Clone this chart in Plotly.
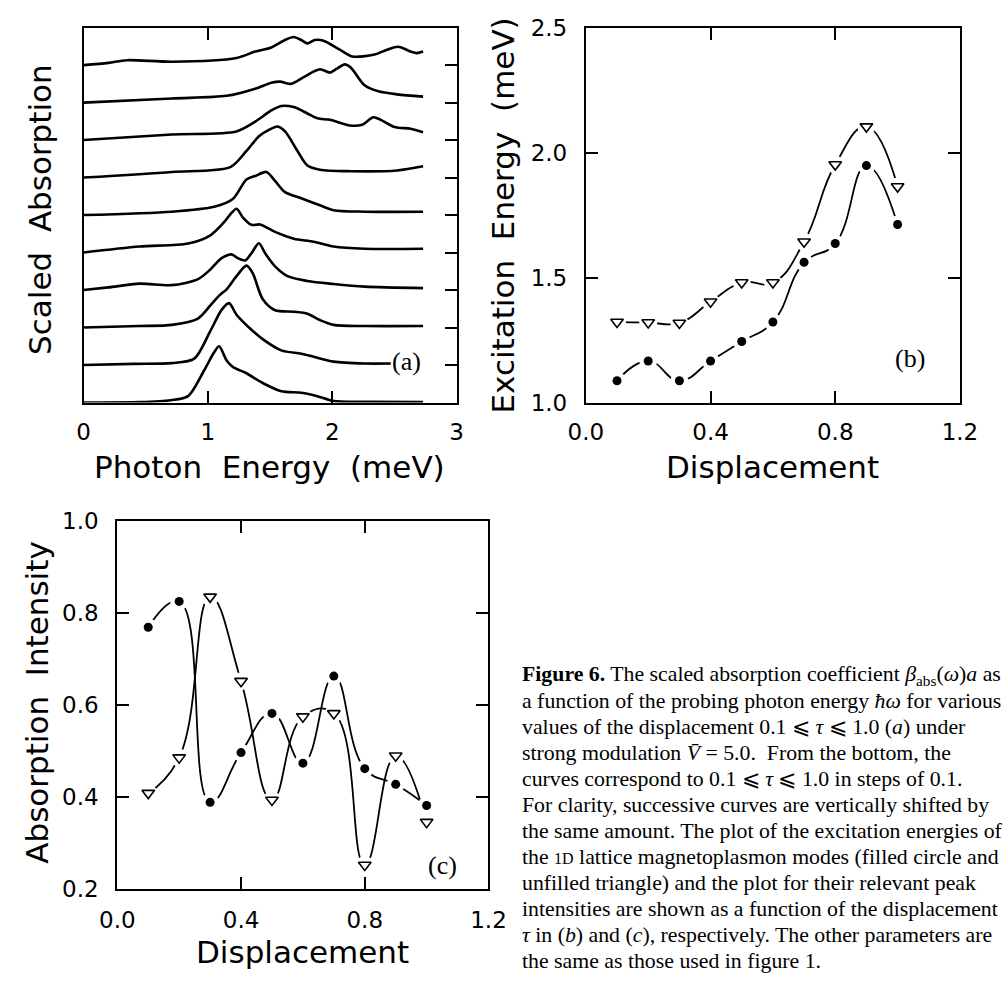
import plotly.graph_objects as go

W, H = 1003, 991

# ---------------- Panel (a): scaled absorption spectra (shift = 1 per curve) ----------------
SHIFT = 1.0
e01 = [0.0, 0.45, 0.70, 0.84, 0.97, 1.05, 1.09, 1.15, 1.20, 1.31, 1.44, 1.59, 1.75, 1.88, 2.01, 2.30, 2.73]
a01 = [0.0, 0.01, 0.06, 0.17, 0.86, 1.34, 1.50, 1.12, 0.95, 0.78, 0.52, 0.30, 0.26, 0.17, 0.04, 0.02, 0.01]
e02 = [0.0, 0.40, 0.71, 0.89, 1.02, 1.11, 1.17, 1.23, 1.33, 1.44, 1.59, 1.75, 1.85, 2.01, 2.26, 2.47]
a02 = [0.0, 0.03, 0.05, 0.17, 0.91, 1.47, 1.65, 1.34, 1.00, 0.69, 0.39, 0.30, 0.22, 0.09, 0.04, 0.04]
e03 = [0.0, 0.45, 0.71, 0.92, 1.02, 1.09, 1.15, 1.23, 1.31, 1.36, 1.44, 1.54, 1.69, 1.80, 1.90, 2.01, 2.26, 2.73]
a03 = [0.0, 0.04, 0.07, 0.24, 0.59, 0.85, 1.02, 1.37, 1.65, 1.45, 0.76, 0.46, 0.42, 0.37, 0.20, 0.07, 0.04, 0.04]
e04 = [0.0, 0.20, 0.45, 0.71, 0.92, 1.02, 1.11, 1.19, 1.24, 1.30, 1.35, 1.41, 1.46, 1.54, 1.64, 1.80, 2.01, 2.26, 2.73]
a04 = [0.0, 0.07, 0.17, 0.13, 0.29, 0.55, 0.85, 0.95, 0.85, 0.79, 0.98, 1.25, 0.98, 0.63, 0.37, 0.24, 0.16, 0.09, 0.05]
e05 = [0.0, 0.45, 0.84, 1.02, 1.13, 1.18, 1.23, 1.28, 1.35, 1.42, 1.54, 1.69, 1.85, 2.01, 2.26, 2.73]
a05 = [0.0, 0.16, 0.24, 0.46, 0.81, 1.02, 1.17, 0.94, 0.74, 0.75, 0.55, 0.37, 0.29, 0.16, 0.10, 0.10]
e06 = [0.0, 0.71, 1.05, 1.20, 1.31, 1.38, 1.47, 1.54, 1.62, 1.75, 1.90, 2.01, 2.26, 2.73]
a06 = [0.0, 0.09, 0.22, 0.43, 0.95, 1.04, 1.15, 0.91, 0.61, 0.45, 0.26, 0.13, 0.09, 0.09]
e07 = [0.0, 0.71, 1.18, 1.31, 1.41, 1.49, 1.56, 1.62, 1.72, 1.80, 1.90, 2.14, 2.52, 2.73]
a07 = [0.0, 0.15, 0.28, 0.71, 1.10, 1.27, 1.36, 1.23, 0.71, 0.32, 0.21, 0.17, 0.19, 0.30]
e08 = [0.0, 0.71, 1.23, 1.38, 1.51, 1.59, 1.69, 1.80, 1.88, 1.98, 2.14, 2.24, 2.33, 2.39, 2.50, 2.63, 2.73]
a08 = [0.0, 0.15, 0.23, 0.49, 0.79, 0.91, 0.88, 0.71, 0.58, 0.54, 0.39, 0.41, 0.61, 0.54, 0.35, 0.30, 0.21]
e09 = [0.0, 0.71, 1.15, 1.38, 1.51, 1.58, 1.67, 1.77, 1.90, 1.98, 2.03, 2.10, 2.15, 2.26, 2.37, 2.52, 2.73]
a09 = [0.0, 0.11, 0.18, 0.37, 0.53, 0.56, 0.50, 0.68, 0.89, 0.80, 0.89, 1.02, 0.93, 0.46, 0.30, 0.22, 0.16]
e10 = [0.0, 0.20, 0.35, 0.71, 1.23, 1.38, 1.51, 1.62, 1.69, 1.75, 1.80, 1.86, 1.93, 2.06, 2.16, 2.34, 2.44, 2.53, 2.63, 2.68, 2.73]
a10 = [0.0, 0.06, 0.13, 0.09, 0.19, 0.36, 0.47, 0.67, 0.75, 0.67, 0.58, 0.67, 0.65, 0.41, 0.23, 0.28, 0.41, 0.49, 0.36, 0.32, 0.36]

energy_ticks = [0, 1, 2, 3]
shift_ticks = [1, 2, 3, 4, 5, 6, 7, 8, 9]

# ---------------- Panels (b) and (c) ----------------
displacement = [0.1, 0.2, 0.3, 0.4, 0.5, 0.6, 0.7, 0.8, 0.9, 1.0]
exc_circle = [1.087, 1.166, 1.087, 1.166, 1.244, 1.322, 1.561, 1.636, 1.948, 1.712]
exc_triangle = [1.322, 1.320, 1.318, 1.403, 1.480, 1.480, 1.643, 1.952, 2.104, 1.864]
int_circle = [0.769, 0.825, 0.389, 0.497, 0.582, 0.474, 0.663, 0.462, 0.428, 0.382]
int_triangle = [0.409, 0.486, 0.835, 0.652, 0.394, 0.575, 0.582, 0.253, 0.490, 0.346]

disp_ticks = [0.0, 0.4, 0.8, 1.2]
disp_ticktext = ["0.0", "0.4", "0.8", "1.2"]
exc_ticks = [1.0, 1.5, 2.0, 2.5]
exc_ticktext = ["1.0", "1.5", "2.0", "2.5"]
int_ticks = [0.2, 0.4, 0.6, 0.8, 1.0]
int_ticktext = ["0.2", "0.4", "0.6", "0.8", "1.0"]

caption_lines = [
    "<b>Figure 6.</b> The scaled absorption coefficient <i>β</i><sub>abs</sub>(<i>ω</i>)<i>a</i> as",
    "a function of the probing photon energy <i>ħω</i> for various",
    "values of the displacement 0.1 ⩽ <i>τ</i> ⩽ 1.0 (<i>a</i>) under",
    "strong modulation <i>V̄</i> = 5.0.  From the bottom, the",
    "curves correspond to 0.1 ⩽ <i>τ</i> ⩽ 1.0 in steps of 0.1.",
    "For clarity, successive curves are vertically shifted by",
    "the same amount. The plot of the excitation energies of",
    "the <span style='font-size:16px'>1D</span> lattice magnetoplasmon modes (filled circle and",
    "unfilled triangle) and the plot for their relevant peak",
    "intensities are shown as a function of the displacement",
    "<i>τ</i> in (<i>b</i>) and (<i>c</i>), respectively. The other parameters are",
    "the same as those used in figure 1.",
]

# ---------------- helpers ----------------
def px(x):
    return x / W

def py(y):
    return 1 - y / H

SANS = "DejaVu Sans"
SERIF = "Liberation Serif"
TICKFONT = dict(family=SANS, size=23, color="black")
TITLEFONT = dict(family=SANS, size=31, color="black")
SP = " \u00a0"  # wide word gap as in the original lettering

fig = go.Figure()

spectra = [(e01, a01), (e02, a02), (e03, a03), (e04, a04), (e05, a05),
           (e06, a06), (e07, a07), (e08, a08), (e09, a09), (e10, a10)]
for k, (e, a) in enumerate(spectra):
    fig.add_trace(go.Scatter(
        x=e, y=[k * SHIFT + v for v in a], mode="lines",
        line=dict(color="black", width=2.6, shape="spline", smoothing=0.8),
        xaxis="x", yaxis="y", showlegend=False, hoverinfo="skip"))

def add_series(xs, ys, ax, ay):
    fig.add_trace(go.Scatter(x=xs, y=ys, mode="lines",
                             line=dict(color="black", width=1.8, shape="spline", smoothing=1.3),
                             xaxis=ax, yaxis=ay, showlegend=False, hoverinfo="skip"))

def add_markers(xs, ys, symbol, ax, ay):
    fig.add_trace(go.Scatter(x=xs, y=ys, mode="markers",
                             marker=dict(symbol="circle", size=18, color="white"),
                             xaxis=ax, yaxis=ay, showlegend=False, hoverinfo="skip"))
    if symbol == "circle":
        mk = dict(symbol="circle", size=9, color="black")
    else:
        mk = dict(symbol="triangle-down-open", size=11, color="black", line=dict(color="black", width=1.6))
    fig.add_trace(go.Scatter(x=xs, y=ys, mode="markers", marker=mk,
                             xaxis=ax, yaxis=ay, showlegend=False, hoverinfo="skip"))

add_series(displacement, exc_circle, "x2", "y2")
add_series(displacement, exc_triangle, "x2", "y2")
add_markers(displacement, exc_circle, "circle", "x2", "y2")
add_markers(displacement, exc_triangle, "triangle", "x2", "y2")

add_series(displacement, int_circle, "x3", "y3")
add_series(displacement, int_triangle, "x3", "y3")
add_markers(displacement, int_circle, "circle", "x3", "y3")
add_markers(displacement, int_triangle, "triangle", "x3", "y3")

axis_common = dict(showline=True, linecolor="black", linewidth=2, showgrid=False, zeroline=False,
                   ticks="inside", ticklen=12, tickwidth=2, tickcolor="black",
                   tickfont=TICKFONT, fixedrange=True)

fig.update_layout(
    xaxis=dict(domain=[px(68), px(455)], anchor="y", range=[0, 3],
               tickvals=energy_ticks, ticktext=[str(t) for t in energy_ticks],
               mirror="ticks", ticklabelstandoff=8, **axis_common),
    yaxis=dict(domain=[py(400), py(15)], anchor="x", range=[0, 10], side="right",
               tickvals=shift_ticks, showticklabels=False, mirror=True, **axis_common),
    xaxis2=dict(domain=[px(589), px(977)], anchor="y2", range=[0, 1.2],
                tickvals=disp_ticks, ticktext=disp_ticktext,
                mirror="ticks", ticklabelstandoff=8, **axis_common),
    yaxis2=dict(domain=[py(400), py(15)], anchor="x2", range=[1.0, 2.5],
                tickvals=exc_ticks, ticktext=exc_ticktext,
                mirror="ticks", ticklabelstandoff=12, **axis_common),
    xaxis3=dict(domain=[px(103), px(488)], anchor="y3", range=[0, 1.2],
                tickvals=disp_ticks, ticktext=disp_ticktext,
                mirror="ticks", ticklabelstandoff=9, **axis_common),
    yaxis3=dict(domain=[py(900), py(521.5)], anchor="x3", range=[0.2, 1.0],
                tickvals=int_ticks, ticktext=int_ticktext,
                mirror="ticks", ticklabelstandoff=12, **axis_common),
)

ann = []
def title(text, x, y, angle=0):
    ann.append(dict(text=text, x=px(x), y=py(y), xref="paper", yref="paper",
                    showarrow=False, textangle=angle, font=TITLEFONT,
                    xanchor="center", yanchor="middle"))

title("Photon" + SP + "Energy" + SP + "(meV)", 261, 466)
title("Scaled" + SP + "Absorption", 22, 202, -90)
title("Displacement", 783, 466)
title("Excitation" + SP + "Energy" + SP + "(meV)", 503, 208, -90)
title("Displacement", 295, 964)
title("Absorption" + SP + "Intensity", 20, 708, -90)

def label(text, x, y):
    ann.append(dict(text=text, x=px(x), y=py(y), xref="paper", yref="paper",
                    showarrow=False, font=dict(family=SERIF, size=26, color="black"),
                    xanchor="center", yanchor="middle", bgcolor="white", borderpad=0))

label("(a)", 403, 358)
label("(b)", 925, 355)
label("(c)", 440, 875)

for i, line in enumerate(caption_lines):
    ann.append(dict(text=line, x=px(521), y=py(680 + 26.7 * i), xref="paper", yref="paper",
                    showarrow=False, font=dict(family=SERIF, size=21.8, color="black"),
                    xanchor="left", yanchor="middle", align="left"))

fig.update_layout(
    annotations=ann,
    width=W, height=H,
    margin=dict(l=0, r=0, t=0, b=0),
    paper_bgcolor="white", plot_bgcolor="white",
    showlegend=False,
)

fig.write_html("out.html")
